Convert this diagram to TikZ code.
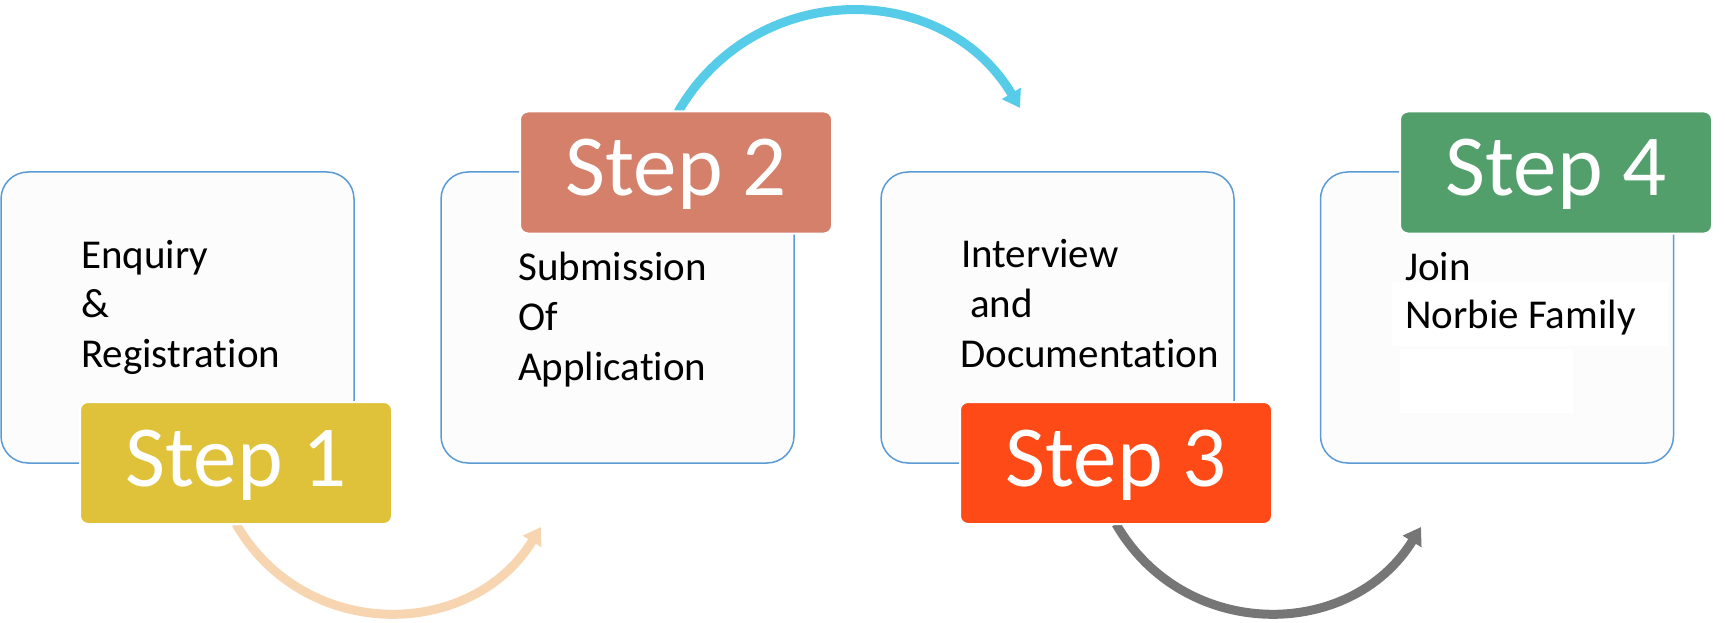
\documentclass[tikz,border=0pt]{standalone}
\usepackage{fontspec}
\setmainfont{Carlito}[Ligatures=NoCommon]
\usetikzlibrary{arrows.meta}
\definecolor{boxline}{HTML}{5B9BD5}
\definecolor{boxfill}{HTML}{FCFCFC}
\definecolor{cstepA}{HTML}{DFC13A}
\definecolor{cstepB}{HTML}{D4806A}
\definecolor{cstepC}{HTML}{FE4A16}
\definecolor{cstepD}{HTML}{529F6B}
\definecolor{arrA}{HTML}{F8D5B1}
\definecolor{arrB}{HTML}{56CCE8}
\definecolor{arrC}{HTML}{767676}
\tikzset{
  mainbox/.style={draw=boxline, fill=boxfill, line width=1.5pt, rounded corners=27pt,
    minimum width=353pt, minimum height=291pt, inner sep=0pt},
  stepbox/.style={draw=white, line width=2pt, rounded corners=8pt, text=white,
    minimum width=312pt, minimum height=122pt, inner sep=0pt,
    font=\fontsize{87}{87}\selectfont, text height=56pt, text depth=9pt},
  body/.style={anchor=base west, inner sep=0pt, font=\fontsize{41}{50}\selectfont},
  flow/.style={line width=9pt, -{Triangle[length=17pt,width=21pt]}},
}
\begin{document}
\begin{tikzpicture}[x=1pt,y=-1pt]
\useasboundingbox (0,0) rectangle (1725,623);
% main boxes
\node[mainbox] (b1) at (177.5,317.5) {};
\node[mainbox] (b2) at (617.5,317.5) {};
\node[mainbox] (b3) at (1057.5,317.5) {};
\node[mainbox] (b4) at (1497,317.5) {};
% faint white patches in box 4
\fill[white] (1392,282) rectangle (1668,346);
\fill[white] (1400,349) rectangle (1573,413);
% texts
\node[body] (t1a) at (81,268) {Enquiry};
\node[body] (t1b) at (81,317) {\&};
\node[body] (t1c) at (81,367) {Registration};
\node[body] (t2a) at (518,280) {Submission};
\node[body] (t2b) at (518,330) {Of};
\node[body] (t2c) at (518,380) {Application};
\node[body] (t3a) at (961,267) {Interview};
\node[body] (t3b) at (970,317) {and};
\node[body] (t3c) at (960,367) {Documentation};
\node[body] (t4a) at (1405,280) {Join};
\node[body] (t4b) at (1405,328) {Norbie Family};
% arrow end points
\coordinate (e1) at (541,527);
\coordinate (e2) at (1020,108);
\coordinate (e3) at (1421,527);
% step positions (for arrows drawn beneath)
\coordinate (p1) at (236,524);
\coordinate (p2) at (678,112);
\coordinate (p3) at (1116,524);
\draw[flow, arrA] (p1) .. controls (303.8,641.5) and (470.2,641.5) .. (e1);
\draw[flow, arrB] (p2) .. controls (755.2,-21.5) and (942.8,-21.5) .. (e2);
\draw[flow, arrC] (p3) .. controls (1183.8,641.5) and (1350.2,641.5) .. (e3);
% step boxes
\node[stepbox, fill=cstepA] (s1) at (236,463) {Step 1};
\node[stepbox, fill=cstepB] (s2) at (676,172.5) {Step 2};
\node[stepbox, fill=cstepC] (s3) at (1116,463) {Step 3};
\node[stepbox, fill=cstepD] (s4) at (1556,172.5) {Step 4};
\end{tikzpicture}
\end{document}
